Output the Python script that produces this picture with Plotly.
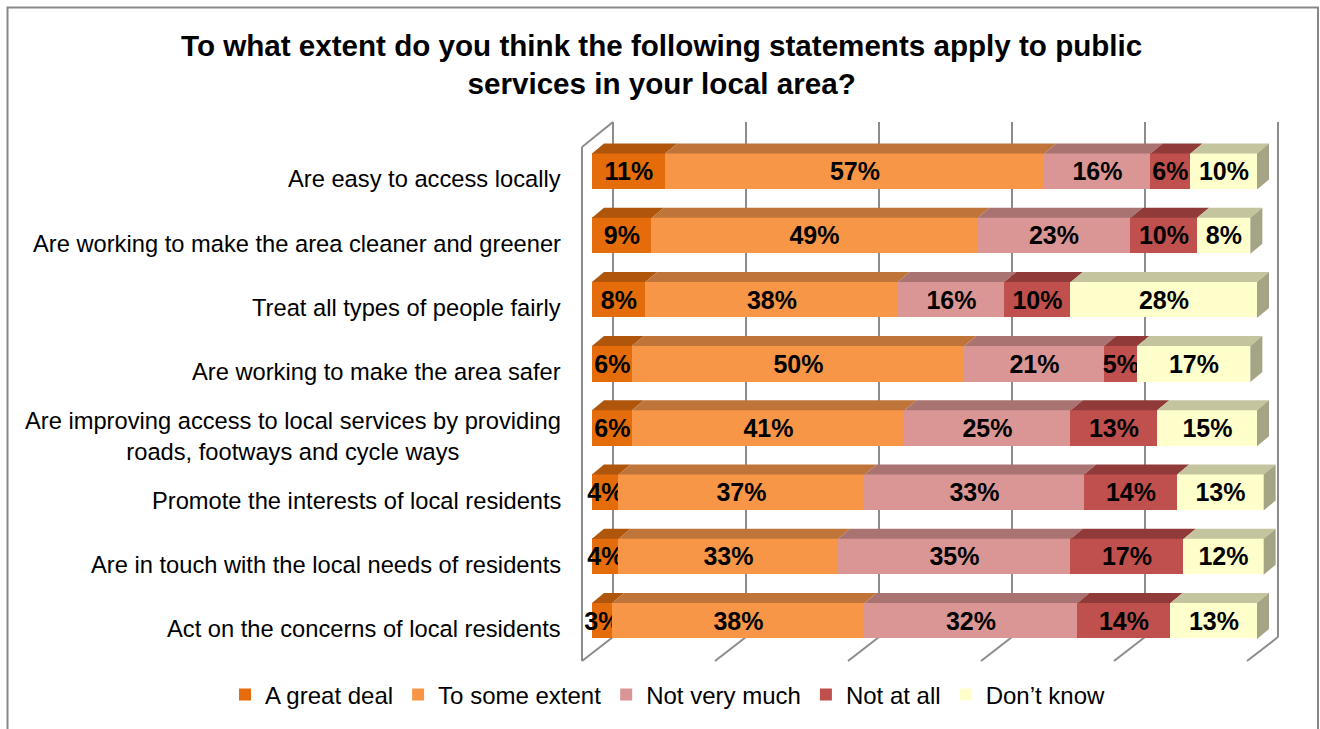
import plotly.graph_objects as go

# Survey statements (top to bottom) and response shares in percent
statements = [
    "Are easy to access locally",
    "Are working to make the area cleaner and greener",
    "Treat all types of people fairly",
    "Are working to make the area safer",
    "Are improving access to local services by providing<br>roads, footways and cycle ways",
    "Promote the interests of local residents",
    "Are in touch with the local needs of residents",
    "Act on the concerns of local residents",
]
series_names = ["A great deal", "To some extent", "Not very much", "Not at all", "Don\u2019t know"]
great_deal = [11, 9, 8, 6, 6, 4, 4, 3]
some_extent = [57, 49, 38, 50, 41, 37, 33, 38]
not_very_much = [16, 23, 16, 21, 25, 33, 35, 32]
not_at_all = [6, 10, 10, 5, 13, 14, 17, 14]
dont_know = [10, 8, 28, 17, 15, 13, 12, 13]
grid_ticks = [0, 20, 40, 60, 80, 100]

series_values = [great_deal, some_extent, not_very_much, not_at_all, dont_know]

front_colors = ["#E46C0A", "#F79646", "#D99694", "#C0504D", "#FFFFCC"]
top_colors = ["#AF550C", "#BF743A", "#A87371", "#903B39", "#C4C49F"]
side_color = "#A5A585"
wall_color = "#8C8C8C"
FONT = "Liberation Sans, Arial, sans-serif"

# ---- page geometry (pixels) ----
W, H = 1320, 729


def px(x):
    return x / W


def py(y):
    return 1 - y / H


# back wall plane
BACK_L, BACK_R, BACK_T, BACK_B = 613, 1278, 122, 637
# front floor edge / left wall front edge
FRONT_L, FRONT_T, FRONT_B = 582, 147, 661
# bar front faces
BAR_L, BAR_R = 592, 1257
ROW0, ROW_PITCH = 171.5, 64.2
BAR_W = 0.56
# bar depth offset in pixels
DEPTH_X, DEPTH_Y = 12, 10
# extra axis room (percent units) so side faces and overhanging labels are not clipped
PAD = 4

n = len(statements)
row_top_px = ROW0 - 0.5 * ROW_PITCH
row_bot_px = ROW0 + (n - 0.5) * ROW_PITCH
unit_px = (BAR_R - BAR_L) / 100
dx = DEPTH_X / unit_px
dy = DEPTH_Y / ROW_PITCH

fig = go.Figure()

# back wall subplot (gridlines only)
fig.add_trace(go.Scatter(x=[], y=[], xaxis="x", yaxis="y", showlegend=False, hoverinfo="skip"))

# stacked bars
for name, vals, col in zip(series_names, series_values, front_colors):
    fig.add_trace(go.Bar(
        y=statements, x=vals, name=name, orientation="h",
        xaxis="x2", yaxis="y2", width=BAR_W,
        marker=dict(color=col, line=dict(width=0)),
        texttemplate="%{x}%", textposition="inside", insidetextanchor="middle",
        textangle=0,
        textfont=dict(family=FONT, size=25, color="black", weight="bold"),
        hoverinfo="skip",
    ))

shapes = []

# top faces of each segment and the right face of the last one
for i in range(n):
    y_top = i - BAR_W / 2
    y_bot = i + BAR_W / 2
    start = 0
    for k, vals in enumerate(series_values):
        end = start + vals[i]
        path = (f"M{start},{y_top} L{end},{y_top} L{end + dx},{y_top - dy} "
                f"L{start + dx},{y_top - dy} Z")
        shapes.append(dict(type="path", path=path, xref="x2", yref="y2",
                           fillcolor=top_colors[k], line=dict(width=0), layer="above"))
        start = end
    path = (f"M{start},{y_top} L{start + dx},{y_top - dy} L{start + dx},{y_bot - dy} "
            f"L{start},{y_bot} Z")
    shapes.append(dict(type="path", path=path, xref="x2", yref="y2",
                       fillcolor=side_color, line=dict(width=0), layer="above"))

# left wall edges and floor diagonals
wall_line = dict(color=wall_color, width=2)
shapes.append(dict(type="line", xref="paper", yref="paper", layer="below",
                   x0=px(FRONT_L), y0=py(FRONT_T), x1=px(FRONT_L), y1=py(FRONT_B), line=wall_line))
shapes.append(dict(type="line", xref="paper", yref="paper", layer="below",
                   x0=px(FRONT_L), y0=py(FRONT_T), x1=px(BACK_L), y1=py(BACK_T), line=wall_line))
span = BACK_R - BACK_L
for t in grid_ticks:
    off = span * t / 100
    shapes.append(dict(type="line", xref="paper", yref="paper", layer="below",
                       x0=px(FRONT_L + off), y0=py(FRONT_B),
                       x1=px(BACK_L + off), y1=py(BACK_B), line=wall_line))

# outer frame
shapes.append(dict(type="rect", xref="paper", yref="paper", layer="below",
                   x0=px(7.5), x1=px(1318), y0=py(7.5), y1=-0.05,
                   line=dict(color="#888888", width=2), fillcolor="rgba(0,0,0,0)"))

annotations = [
    dict(text="To what extent do you think the following statements apply to public<br>"
              "services in your local area?",
         xref="paper", yref="paper", x=px(662), y=py(65), xanchor="center", yanchor="middle",
         showarrow=False, align="center",
         font=dict(family=FONT, size=29.6, color="black", weight="bold")),
]
for s in statements:
    annotations.append(dict(text=s, xref="paper", yref="y2", x=px(563), y=s,
                            xanchor="right", yanchor="middle", align="center", yshift=-8,
                            showarrow=False, font=dict(family=FONT, size=23.7, color="black")))

fig.update_layout(
    width=W, height=H,
    margin=dict(l=0, r=0, t=0, b=0),
    paper_bgcolor="white", plot_bgcolor="rgba(0,0,0,0)",
    barmode="stack", bargap=0,
    uniformtext=dict(minsize=25, mode="show"),
    showlegend=True,
    legend=dict(orientation="h", x=px(668), xanchor="center", y=py(695), yanchor="middle",
                font=dict(family=FONT, size=24, color="black"), traceorder="normal",
                bgcolor="rgba(0,0,0,0)"),
    xaxis=dict(domain=[px(BACK_L - PAD * unit_px), px(BACK_R + PAD * unit_px)],
               range=[-PAD, 100 + PAD], tickvals=grid_ticks,
               showgrid=True, gridcolor=wall_color, gridwidth=2, showticklabels=False,
               zeroline=False, showline=False, ticks="", anchor="y", fixedrange=True),
    yaxis=dict(domain=[py(BACK_B), py(BACK_T)], range=[0, 1], showgrid=False,
               showticklabels=False, zeroline=False, showline=False, ticks="", anchor="x",
               fixedrange=True),
    xaxis2=dict(domain=[px(BAR_L - PAD * unit_px), px(BAR_R + PAD * unit_px)],
                range=[-PAD, 100 + PAD], visible=False, anchor="y2", fixedrange=True),
    yaxis2=dict(domain=[py(row_bot_px), py(row_top_px)], range=[n - 0.5, -0.5], visible=False,
                anchor="x2", fixedrange=True),
    shapes=shapes,
    annotations=annotations,
)

fig.write_html("out.html")
